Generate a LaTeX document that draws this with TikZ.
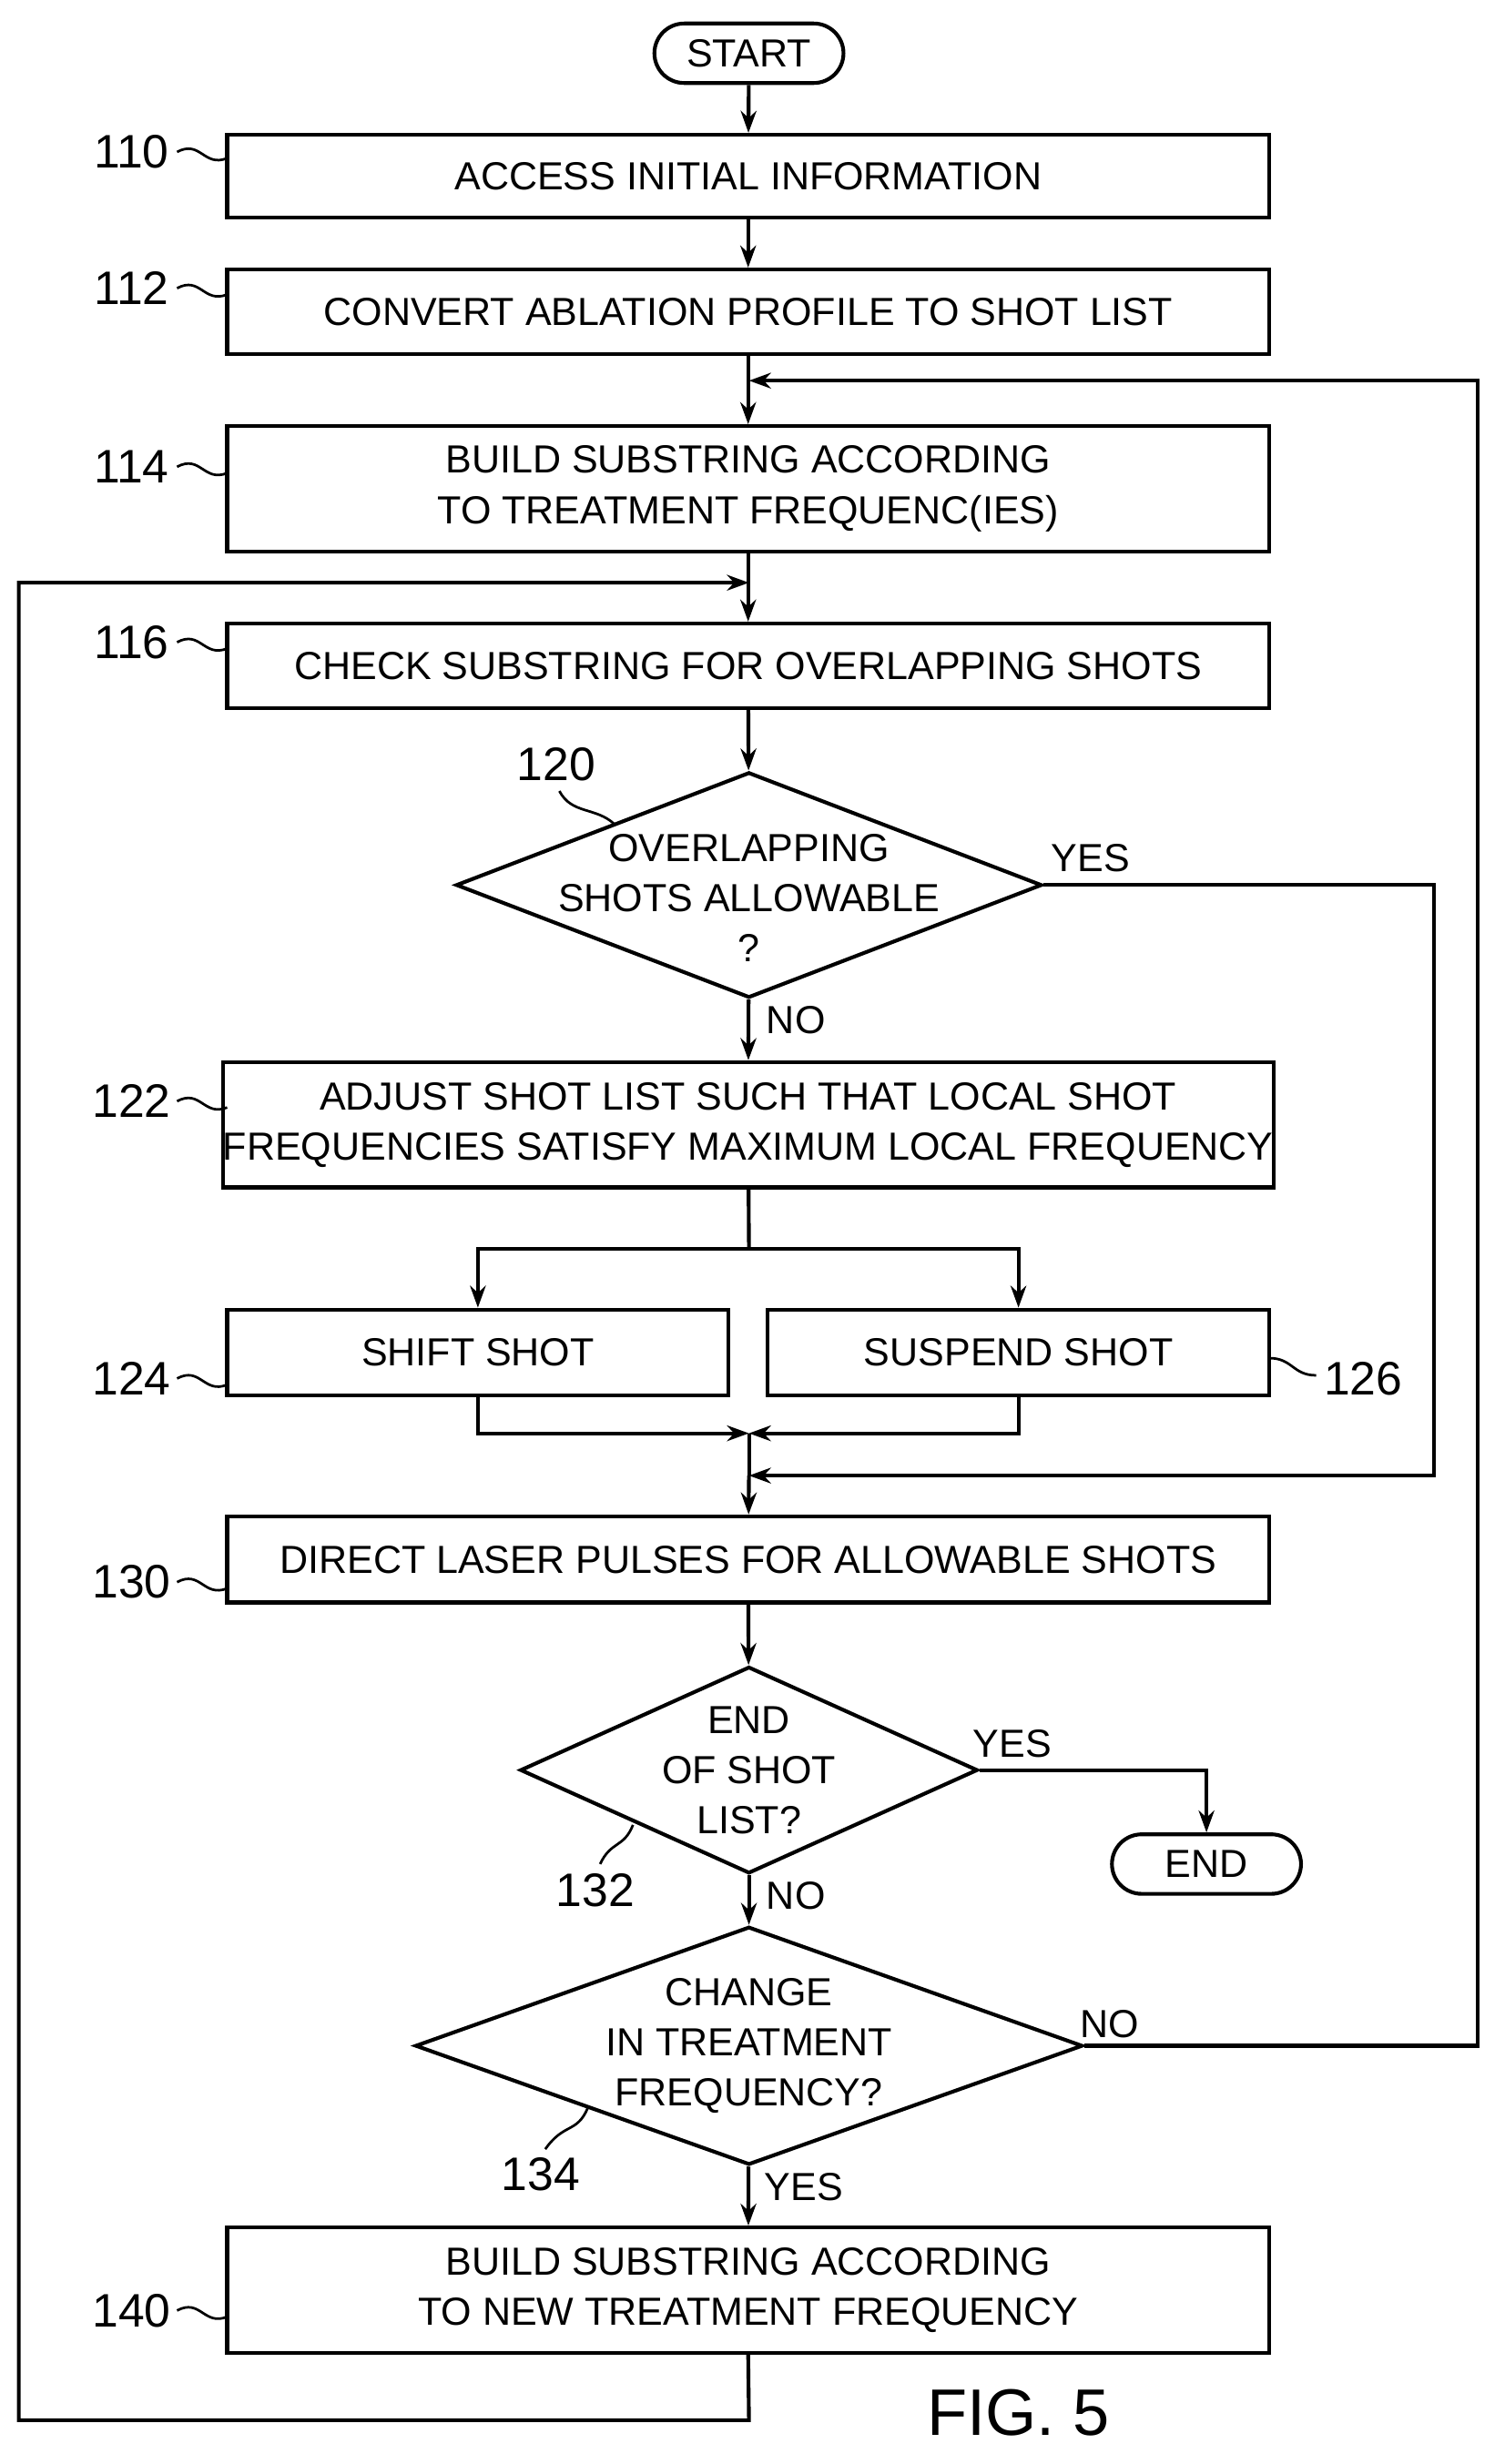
\documentclass[tikz,border=0pt]{standalone}
\usepackage{fontspec}
\setmainfont{Liberation Sans}
\usetikzlibrary{shapes.geometric,arrows.meta}
\begin{document}
\begin{tikzpicture}[x=0.5pt,y=-0.5pt,
 box/.style={draw,line width=1.2pt,rectangle,minimum width=332.5pt,inner sep=0pt,align=center,font=\fontsize{12.5}{16}\selectfont},
 term/.style={draw,line width=1.2pt,rounded rectangle,minimum width=67pt,minimum height=19pt,font=\fontsize{12.5}{15}\selectfont},
 dia/.style={draw,line width=1.2pt,diamond,inner sep=0pt},
 txt/.style={align=center,font=\fontsize{12.5}{16}\selectfont},
 lab/.style={font=\fontsize{15}{18}\selectfont},
 line/.style={line width=1.2pt},
 arr/.style={line width=1.2pt,-{Stealth[length=7pt,width=5pt]}}]
\useasboundingbox (0,0) rectangle (960,1573);
\usetikzlibrary{shapes.misc}
\node[term] (start) at (478,34) {START};
\node[box,minimum height=26.5pt] (b110) at (477.5,112.5) {ACCESS INITIAL INFORMATION};
\node[box,minimum height=27pt] (b112) at (477.5,199) {CONVERT ABLATION PROFILE TO SHOT LIST};
\node[box,minimum height=40pt] (b114) at (477.5,312) {BUILD SUBSTRING ACCORDING\\TO TREATMENT FREQUENC(IES)};
\node[box,minimum height=27pt] (b116) at (477.5,425) {CHECK SUBSTRING FOR OVERLAPPING SHOTS};
\node[dia,minimum width=187pt,minimum height=72pt] (d120) at (478,565) {};
\node[txt] at (478,573) {OVERLAPPING\\SHOTS ALLOWABLE\\?};
\node[box,minimum height=40pt] (b122) at (477.5,718) {ADJUST SHOT LIST SUCH THAT LOCAL SHOT\\FREQUENCIES SATISFY MAXIMUM LOCAL FREQUENCY};
\node[box,minimum width=160pt,minimum height=27.5pt] (b124) at (305,863.5) {SHIFT SHOT};
\node[box,minimum width=160pt,minimum height=27.5pt] (b126) at (650,863.5) {SUSPEND SHOT};
\node[box,minimum height=27.5pt] (b130) at (477.5,995.5) {DIRECT LASER PULSES FOR ALLOWABLE SHOTS};
\node[dia,minimum width=146pt,minimum height=66pt] (d132) at (478,1130) {};
\node[txt] at (478,1130) {END\\OF SHOT\\LIST?};
\node[term] (end) at (770,1190) {END};
\node[dia,minimum width=213pt,minimum height=76pt] (d134) at (478,1306) {};
\node[txt] at (478,1306) {CHANGE\\IN TREATMENT\\FREQUENCY?};
\node[box,minimum height=40pt] (b140) at (477.5,1462) {BUILD SUBSTRING ACCORDING\\TO NEW TREATMENT FREQUENCY};
% connectors
\draw[arr] (start) -- (b110);
\draw[arr] (b110) -- (b112);
\draw[arr] (b112) -- (b114);
\draw[arr] (b114) -- (b116);
\draw[arr] (b116) -- (d120);
\draw[arr] (d120) -- (b122);
\coordinate (j1) at (478,797);
\draw[line] (b122) -- (j1);
\draw[arr] (j1) -| (b124);
\draw[arr] (j1) -| (b126);
\coordinate (m1) at (478,915);
\draw[arr] (b124.south) |- (m1);
\draw[arr] (b126.south) |- (m1);
\coordinate (m2) at (478,942);
\draw[line] (m1) -- (m2);
\draw[arr] (m2) -- (b130);
\draw[arr] (d120.east) -- (915,565) -- (915,942) -- (m2);
\draw[arr] (b130) -- (d132);
\draw[arr] (d132.east) -| (end);
\draw[arr] (d132) -- (d134);
\draw[arr] (d134) -- (b140);
\coordinate (t1) at (478,243);
\draw[arr] (d134.east) -- (943,1306) -- (943,243) -- (t1);
\coordinate (t2) at (478,372);
\draw[arr] (b140.south) -- (478,1545) -- (12,1545) -- (12,372) -- (t2);
% yes/no
\node[txt,anchor=west] at (664,548) {YES};
\node[txt] at (508,651) {NO};
\node[txt] at (646,1113) {YES};
\node[txt] at (508,1210) {NO};
\node[txt] at (708,1292) {NO};
\node[txt] at (513,1396) {YES};
% reference labels
\foreach \n/\y in {110/97,112/184,114/298,116/410,122/703,124/880,130/1010,140/1475}{
 \node[lab] (l\n) at (84,\y) {\n};
 \draw[line width=0.8pt] (113,\y) .. controls (128,\y-8) and (130,\y+10) .. (145,\y+4);
}
\node[lab] (l126) at (870,880) {126};
\draw[line width=0.8pt] (810,867) .. controls (825,867) and (825,878) .. (840,878);
\node[lab] (l120) at (355,488) {120};
\draw[line width=0.8pt] (357,505) .. controls (365,520) and (380,515) .. (392,526);
\node[lab] (l132) at (380,1207) {132};
\draw[line width=0.8pt] (383,1190) .. controls (390,1175) and (398,1180) .. (404,1165);
\node[lab] (l134) at (345,1388) {134};
\draw[line width=0.8pt] (348,1372) .. controls (360,1355) and (368,1362) .. (375,1346);
\node[font=\fontsize{21}{24}\selectfont\rmfamily] at (650,1540) {FIG. 5};
\end{tikzpicture}
\end{document}
